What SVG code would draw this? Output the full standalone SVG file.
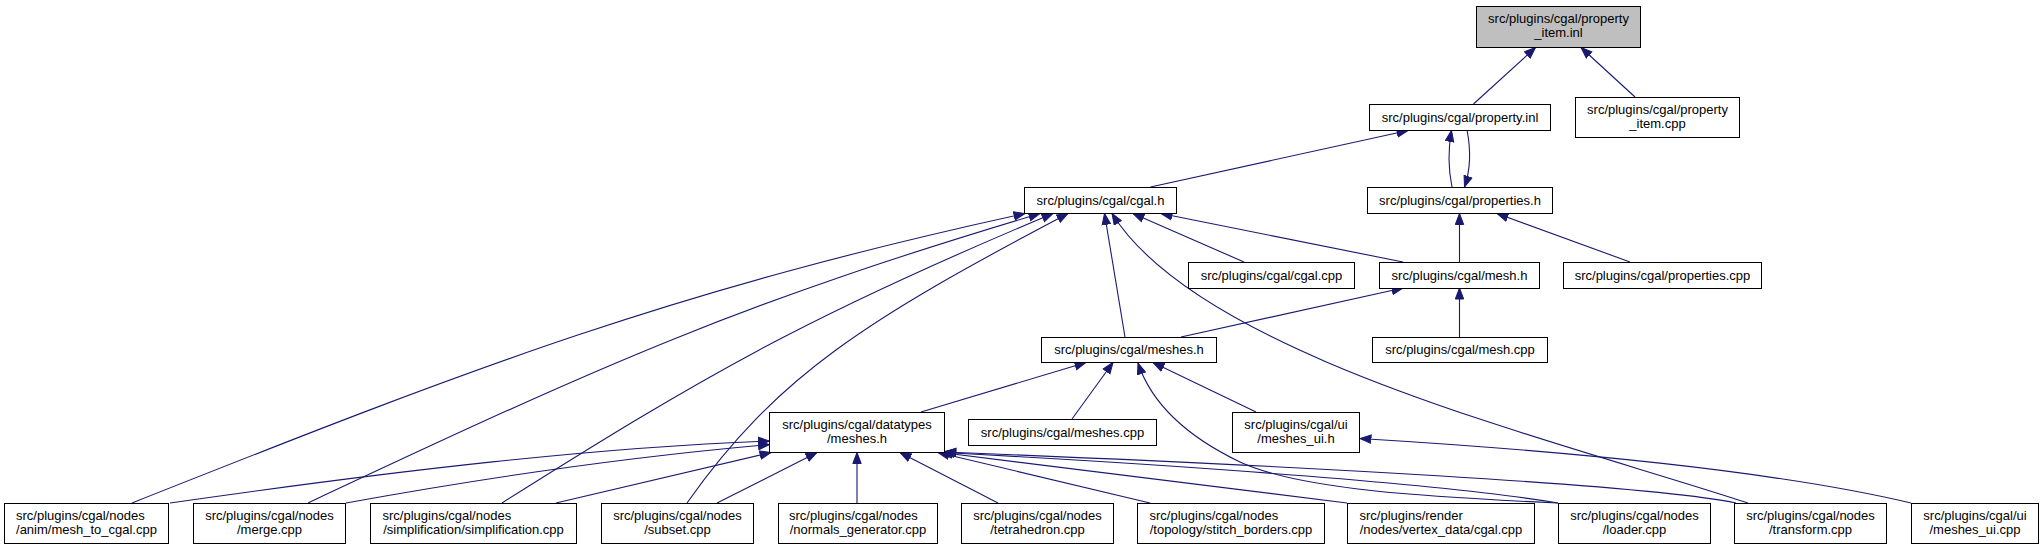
<svg xmlns="http://www.w3.org/2000/svg" width="2044" height="549" viewBox="0 0 2044 549">
<style>
.n rect{fill:#fff;stroke:#000;stroke-width:1}
.n.root rect{fill:#bfbfbf}
.n text{font-family:"Liberation Sans",Arial,Helvetica,sans-serif;font-size:13px;fill:#000}
.m{text-anchor:middle}
.e path{fill:none;stroke:#191970;stroke-width:1.1;marker-end:url(#arr)}
</style>
<defs>
<marker id="arr" markerUnits="userSpaceOnUse" markerWidth="13" markerHeight="11" refX="11.5" refY="5" orient="auto" viewBox="0 0 13 11">
<path d="M0.5,0.8 L11.5,5 L0.5,9.2 z" fill="#191970" stroke="#191970" stroke-width="1"/>
</marker>
</defs>
<rect x="0" y="0" width="2044" height="549" fill="#fff"/>
<g id="edges" class="e">
<path d="M1473.5,104 L1535.5,47.5"/>
<path d="M1635,97 L1581,47.5"/>
<path d="M1150.5,187 L1408,130.5"/>
<path d="M1452,187 C1448,168 1448,150 1451.5,130.5"/>
<path d="M1467,130 C1471,150 1471,168 1464.5,187"/>
<path d="M1244,262 L1133,213.5"/>
<path d="M1403,262 L1161,213.5"/>
<path d="M1459.5,262 L1459.5,213.5"/>
<path d="M1630,262 L1497,213.5"/>
<path d="M1125,337 L1104.5,213.5"/>
<path d="M1181,337 L1403,288"/>
<path d="M1459.5,337 L1459.5,288"/>
<path d="M921,412 L1086,362.5"/>
<path d="M1072,419 L1113,362.5"/>
<path d="M1256,412 L1153,362.5"/>
<path d="M1558,503 C1430,497 1300,490 1240,462 C1190,438 1152,405 1138,363"/>
<path d="M1748,503 C1550,438 1200,355 1112,213.5"/>
<path d="M132,503 C482,364 675,290 1025,213.5"/>
<path d="M308,503 C608,362 740,303 1040,213.5"/>
<path d="M502,503 C702,377 803,318 1053,213.5"/>
<path d="M687,503 C777,375 868,319 1068,213.5"/>
<path d="M170,503 C400,470 600,447 769.5,441"/>
<path d="M346,503 C500,475 650,455 769.5,444.5"/>
<path d="M556,503 L771,452.5"/>
<path d="M717,503 L817,452.5"/>
<path d="M857,503 L857,452.5"/>
<path d="M998,503 L900,452.5"/>
<path d="M1150,503 L938,452.5"/>
<path d="M1347,503 L941,452.5"/>
<path d="M1558,503 C1450,485 1200,466 943,452.5"/>
<path d="M1736,503 C1650,485 1300,466 945,452"/>
<path d="M1911,503 C1750,465 1500,447 1360,438.5"/>
</g>
<g id="node-property_item_inl" class="n root"><rect x="1476.5" y="6.5" width="164" height="41"/><text class="m" x="1558.5" y="22.5">src/plugins/cgal/property</text><text class="m" x="1558.5" y="36.5">_item.inl</text></g>
<g id="node-property_inl" class="n"><rect x="1369.5" y="104.5" width="181" height="26"/><text class="m" x="1460" y="121.5">src/plugins/cgal/property.inl</text></g>
<g id="node-property_item_cpp" class="n"><rect x="1575.5" y="97.5" width="164" height="40"/><text class="m" x="1657.5" y="113.5">src/plugins/cgal/property</text><text class="m" x="1657.5" y="127.5">_item.cpp</text></g>
<g id="node-cgal_h" class="n"><rect x="1024.5" y="187.5" width="152" height="26"/><text class="m" x="1100.5" y="204.5">src/plugins/cgal/cgal.h</text></g>
<g id="node-properties_h" class="n"><rect x="1367.5" y="187.5" width="185" height="26"/><text class="m" x="1460" y="204.5">src/plugins/cgal/properties.h</text></g>
<g id="node-cgal_cpp" class="n"><rect x="1188.5" y="262.5" width="166" height="26"/><text class="m" x="1271.5" y="279.5">src/plugins/cgal/cgal.cpp</text></g>
<g id="node-mesh_h" class="n"><rect x="1379.5" y="262.5" width="160" height="26"/><text class="m" x="1459.5" y="279.5">src/plugins/cgal/mesh.h</text></g>
<g id="node-properties_cpp" class="n"><rect x="1563.5" y="262.5" width="198" height="26"/><text class="m" x="1662.5" y="279.5">src/plugins/cgal/properties.cpp</text></g>
<g id="node-meshes_h" class="n"><rect x="1041.5" y="337.5" width="175" height="25"/><text class="m" x="1129" y="354">src/plugins/cgal/meshes.h</text></g>
<g id="node-mesh_cpp" class="n"><rect x="1372.5" y="337.5" width="175" height="25"/><text class="m" x="1460" y="354">src/plugins/cgal/mesh.cpp</text></g>
<g id="node-datatypes_meshes_h" class="n"><rect x="769.5" y="412.5" width="175" height="40"/><text class="m" x="857" y="428.5">src/plugins/cgal/datatypes</text><text class="m" x="857" y="442.5">/meshes.h</text></g>
<g id="node-meshes_cpp" class="n"><rect x="968.5" y="419.5" width="188" height="26"/><text class="m" x="1062.5" y="436.5">src/plugins/cgal/meshes.cpp</text></g>
<g id="node-ui_meshes_ui_h" class="n"><rect x="1232.5" y="412.5" width="127" height="40"/><text class="m" x="1296" y="428.5">src/plugins/cgal/ui</text><text class="m" x="1296" y="442.5">/meshes_ui.h</text></g>
<g id="node-anim_mesh_to_cgal" class="n"><rect x="4.5" y="503.5" width="164" height="40"/><text x="16" y="519.5">src/plugins/cgal/nodes</text><text class="m" x="86.5" y="533.5">/anim/mesh_to_cgal.cpp</text></g>
<g id="node-merge" class="n"><rect x="193.5" y="503.5" width="152" height="40"/><text class="m" x="269.5" y="519.5">src/plugins/cgal/nodes</text><text class="m" x="269.5" y="533.5">/merge.cpp</text></g>
<g id="node-simplification" class="n"><rect x="370.5" y="503.5" width="206" height="40"/><text x="382.5" y="519.5">src/plugins/cgal/nodes</text><text class="m" x="473.5" y="533.5">/simplification/simplification.cpp</text></g>
<g id="node-subset" class="n"><rect x="601.5" y="503.5" width="152" height="40"/><text class="m" x="677.5" y="519.5">src/plugins/cgal/nodes</text><text class="m" x="677.5" y="533.5">/subset.cpp</text></g>
<g id="node-normals_generator" class="n"><rect x="778.5" y="503.5" width="159" height="40"/><text x="789" y="519.5">src/plugins/cgal/nodes</text><text class="m" x="858" y="533.5">/normals_generator.cpp</text></g>
<g id="node-tetrahedron" class="n"><rect x="961.5" y="503.5" width="152" height="40"/><text class="m" x="1037.5" y="519.5">src/plugins/cgal/nodes</text><text class="m" x="1037.5" y="533.5">/tetrahedron.cpp</text></g>
<g id="node-stitch_borders" class="n"><rect x="1137.5" y="503.5" width="187" height="40"/><text x="1149.5" y="519.5">src/plugins/cgal/nodes</text><text class="m" x="1231" y="533.5">/topology/stitch_borders.cpp</text></g>
<g id="node-render_cgal" class="n"><rect x="1347.5" y="503.5" width="187" height="40"/><text x="1359.5" y="519.5">src/plugins/render</text><text class="m" x="1441" y="533.5">/nodes/vertex_data/cgal.cpp</text></g>
<g id="node-loader" class="n"><rect x="1558.5" y="503.5" width="152" height="40"/><text class="m" x="1634.5" y="519.5">src/plugins/cgal/nodes</text><text class="m" x="1634.5" y="533.5">/loader.cpp</text></g>
<g id="node-transform" class="n"><rect x="1734.5" y="503.5" width="152" height="40"/><text class="m" x="1810.5" y="519.5">src/plugins/cgal/nodes</text><text class="m" x="1810.5" y="533.5">/transform.cpp</text></g>
<g id="node-ui_meshes_ui_cpp" class="n"><rect x="1911.5" y="503.5" width="127" height="40"/><text class="m" x="1975" y="519.5">src/plugins/cgal/ui</text><text class="m" x="1975" y="533.5">/meshes_ui.cpp</text></g>
</svg>
